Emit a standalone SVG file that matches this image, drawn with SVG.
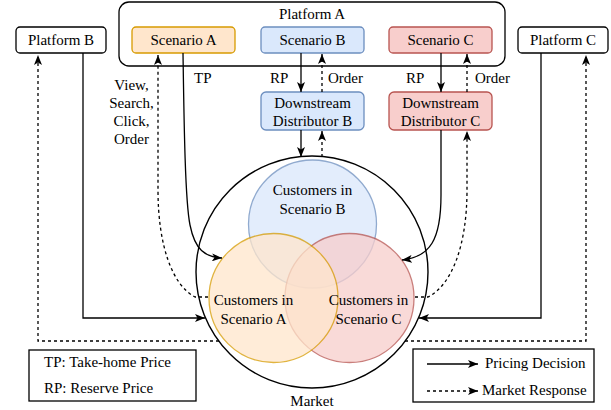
<svg xmlns="http://www.w3.org/2000/svg" width="611" height="410" viewBox="0 0 611 410" font-family="'Liberation Serif', 'Times New Roman', serif">
<defs>
<style>
text{font-family:'Liberation Serif','Times New Roman',serif;font-size:15px;fill:#000}
.c{text-anchor:middle}
.box{fill:#fff;stroke:#000;stroke-width:1.3}
.ln{fill:none;stroke:#000;stroke-width:1.3}
.ds{fill:none;stroke:#000;stroke-width:1.3;stroke-dasharray:3 3}
.org{fill:#ffe6cc;stroke:#d79b00;stroke-width:1.3}
.blu{fill:#dae8fc;stroke:#6c8ebf;stroke-width:1.3}
.red{fill:#f8cecc;stroke:#b85450;stroke-width:1.3}
</style>
<marker id="ah" viewBox="0 0 10 8" refX="10" refY="4" markerWidth="10" markerHeight="8" markerUnits="userSpaceOnUse" orient="auto">
<path d="M0,0 L10,4 L0,8 L2.5,4 z" fill="#000"/>
</marker>
</defs>
<rect width="611" height="410" fill="#fff"/>

<g id="platformA">
<rect x="119" y="2" width="386" height="64" rx="10" class="box"/>
<text x="312" y="19" class="c">Platform A</text>
</g>
<g id="platformB">
<rect x="16" y="27" width="90" height="26" rx="4" class="box"/>
<text x="61" y="45" class="c">Platform B</text>
</g>
<g id="platformC">
<rect x="518" y="27" width="90" height="26" rx="4" class="box"/>
<text x="563" y="45" class="c">Platform C</text>
</g>
<g id="scenarioA">
<rect x="132" y="27" width="103" height="26" rx="4" class="org"/>
<text x="183.5" y="45" class="c">Scenario A</text>
</g>
<g id="scenarioB">
<rect x="261" y="27" width="103" height="26" rx="4" class="blu"/>
<text x="312.5" y="45" class="c">Scenario B</text>
</g>
<g id="scenarioC">
<rect x="389" y="27" width="103" height="26" rx="4" class="red"/>
<text x="440.5" y="45" class="c">Scenario C</text>
</g>
<g id="distributorB">
<rect x="261" y="92" width="103" height="38" rx="5" class="blu"/>
<text x="312.5" y="108" class="c">Downstream</text>
<text x="312.5" y="126" class="c">Distributor B</text>
</g>
<g id="distributorC">
<rect x="389" y="92" width="103" height="38" rx="5" class="red"/>
<text x="440.5" y="108" class="c">Downstream</text>
<text x="440.5" y="126" class="c">Distributor C</text>
</g>

<g id="market">
<circle cx="312" cy="272" r="116" fill="none" stroke="#000" stroke-width="1.4"/>
<text x="312" y="406" class="c">Market</text>
</g>
<g id="customersB" opacity="0.75">
<circle cx="312.5" cy="224" r="64" class="blu"/>
</g>
<g id="customersC" opacity="0.75">
<circle cx="349.5" cy="298" r="64.5" class="red"/>
</g>
<g id="customersA" opacity="0.75">
<circle cx="273.5" cy="298" r="64.5" class="org"/>
</g>
<g id="customerLabels">
<text x="312.5" y="195" class="c">Customers in</text>
<text x="312.5" y="214" class="c">Scenario B</text>
<text x="253.5" y="305" class="c">Customers in</text>
<text x="253.5" y="324" class="c">Scenario A</text>
<text x="368.5" y="305" class="c">Customers in</text>
<text x="368.5" y="324" class="c">Scenario C</text>
</g>

<g id="connectors">
<path class="ln" marker-end="url(#ah)" d="M183 53 C184 120 185 200 190 225 C195 250 205 257 222 258"/>
<path class="ln" marker-end="url(#ah)" d="M441 130 L441 195 C441 240 430 257 402 260"/>
<path class="ds" marker-end="url(#ah)" d="M208 297 L195 297 C172 285 158 245 158 190 L158 55"/>
<path class="ds" marker-end="url(#ah)" d="M415 297 L428 297 C452 285 467 245 467 190 L467 131"/>
<path class="ln" marker-end="url(#ah)" d="M301 53 L301 92"/>
<path class="ds" marker-end="url(#ah)" d="M322 92 L322 54"/>
<path class="ln" marker-end="url(#ah)" d="M441 53 L441 92"/>
<path class="ds" marker-end="url(#ah)" d="M467 92 L467 54"/>
<path class="ln" marker-end="url(#ah)" d="M301 130 L301 157"/>
<path class="ds" marker-end="url(#ah)" d="M322 157 L322 131"/>
<path class="ln" marker-end="url(#ah)" d="M83 53 L83 318 L205 318"/>
<path class="ln" marker-end="url(#ah)" d="M541 53 L541 318 L419 318"/>
<path class="ds" marker-end="url(#ah)" d="M219 341 L38 341 L38 55"/>
<path class="ds" marker-end="url(#ah)" d="M405 341 L586 341 L586 55"/>
<text x="194" y="83">TP</text>
<text x="270" y="83">RP</text>
<text x="328" y="83">Order</text>
<text x="406" y="83">RP</text>
<text x="475" y="83">Order</text>
<text x="131.5" y="90" class="c">View,</text>
<text x="131.5" y="108" class="c">Search,</text>
<text x="131.5" y="126" class="c">Click,</text>
<text x="131.5" y="144" class="c">Order</text>
</g>

<g id="legendAbbr">
<rect x="29" y="350" width="167" height="51" class="box"/>
<text x="44" y="367">TP: Take-home Price</text>
<text x="44" y="393">RP: Reserve Price</text>
</g>
<g id="legendLines">
<rect x="413" y="349" width="181" height="53" class="box"/>
<path class="ln" marker-end="url(#ah)" d="M427 364 L478 364"/>
<path class="ds" marker-end="url(#ah)" d="M427 391 L478 391"/>
<text x="485" y="368">Pricing Decision</text>
<text x="482" y="395">Market Response</text>
</g>
</svg>
